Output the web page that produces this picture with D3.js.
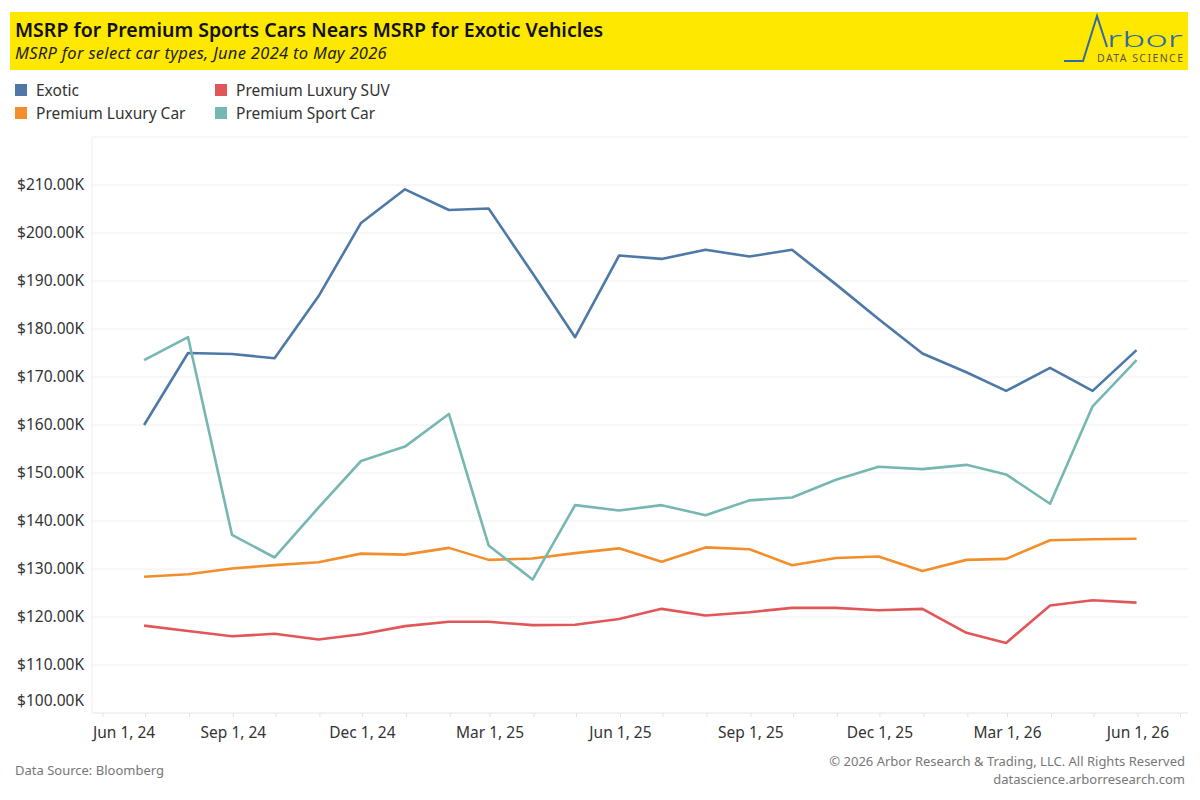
<!DOCTYPE html>
<html>
<head>
<meta charset="utf-8">
<script src="https://cdn.jsdelivr.net/npm/d3@7"></script>
<style>
  body { margin: 0; background: #fff; }
  svg { display: block; font-family: "Noto Sans", "Open Sans", sans-serif; }
</style>
</head>
<body>
<svg id="chart" width="1200" height="800"></svg>
<script>
// monthly observations (month end), June 2024 .. May 2026
var dates = [
    '2024-06-30', '2024-07-31', '2024-08-31', '2024-09-30', '2024-10-31', '2024-11-30',
    '2024-12-31', '2025-01-31', '2025-02-28', '2025-03-31', '2025-04-30', '2025-05-31',
    '2025-06-30', '2025-07-31', '2025-08-31', '2025-09-30', '2025-10-31', '2025-11-30',
    '2025-12-31', '2026-01-31', '2026-02-28', '2026-03-31', '2026-04-30', '2026-05-31'
];

// values in $K
var exotic = [
    160.0, 175.0, 174.8, 173.9, 186.8, 202.1, 209.1, 204.8, 205.1, 191.6, 178.3, 195.3,
    194.6, 196.5, 195.1, 196.5, 189.3, 182.1, 174.9, 171.0, 167.1, 171.9, 167.1, 175.6
];
var luxuryCar = [
    128.4, 128.9, 130.1, 130.8, 131.4, 133.2, 133.0, 134.4, 131.9, 132.2, 133.3, 134.3,
    131.5, 134.5, 134.1, 130.8, 132.3, 132.6, 129.6, 131.9, 132.1, 136.0, 136.2, 136.3
];
var luxurySuv = [
    118.2, 117.1, 116.0, 116.5, 115.3, 116.4, 118.1, 119.0, 119.0, 118.3, 118.4, 119.6,
    121.7, 120.3, 121.0, 121.9, 121.9, 121.4, 121.7, 116.7, 114.6, 122.4, 123.5, 123.0
];
var sportCar = [
    173.5, 178.3, 137.1, 132.4, 142.8, 152.5, 155.5, 162.3, 134.9, 127.8, 143.3, 142.2,
    143.3, 141.2, 144.3, 144.9, 148.6, 151.3, 150.8, 151.7, 149.7, 143.6, 163.9, 173.5
];

var seriesNames = ['Exotic', 'Premium Luxury Car', 'Premium Luxury SUV', 'Premium Sport Car'];
var seriesValues = [exotic, luxuryCar, luxurySuv, sportCar];
var seriesColors = ['#4e79a7', '#f28e2b', '#e15759', '#76b7b2'];

var xTickLabels = ['2024-06-01', '2024-09-01', '2024-12-01', '2025-03-01', '2025-06-01',
    '2025-09-01', '2025-12-01', '2026-03-01', '2026-06-01'];
var yTicks = [100, 110, 120, 130, 140, 150, 160, 170, 180, 190, 200, 210];

var title = 'MSRP for Premium Sports Cars Nears MSRP for Exotic Vehicles';
var subtitle = 'MSRP for select car types, June 2024 to May 2026';

var parse = d3.utcParse('%Y-%m-%d');
var svg = d3.select('#chart');

var plot = { left: 92, right: 1188, top: 137, bottom: 713 };

// header band
svg.append('rect')
    .attr('x', 10).attr('y', 12).attr('width', 1178).attr('height', 58)
    .attr('fill', '#ffe800');
svg.append('text')
    .attr('x', 15).attr('y', 37)
    .attr('font-size', 19.5).attr('font-weight', 600).attr('fill', '#111')
    .text(title);
svg.append('text')
    .attr('x', 15).attr('y', 59)
    .attr('font-size', 16.5).attr('font-style', 'italic').attr('fill', '#222')
    .attr('letter-spacing', 0.3)
    .text(subtitle);

// logo
var logo = svg.append('g');
logo.append('path')
    .attr('d', 'M1064,61H1083L1097,16L1107,47')
    .attr('fill', 'none').attr('stroke', '#2f6aa5').attr('stroke-width', 2);
logo.append('text')
    .attr('x', 1107).attr('y', 47)
    .attr('font-size', 21).attr('font-weight', 300).attr('fill', '#2f6aa5')
    .attr('textLength', 76).attr('lengthAdjust', 'spacingAndGlyphs')
    .text('rbor');
logo.append('text')
    .attr('x', 1097).attr('y', 62)
    .attr('font-size', 10.5).attr('fill', '#58554a')
    .attr('textLength', 86)
    .text('DATA SCIENCE');

// legend, two columns
var legend = svg.append('g').selectAll('g').data(seriesNames).enter()
    .append('g')
    .attr('transform', (d, i) => 'translate(' + (i < 2 ? 15 : 215) + ',' + (i % 2 === 0 ? 84 : 107) + ')');
legend.append('rect')
    .attr('width', 12).attr('height', 12)
    .attr('fill', (d, i) => seriesColors[i]);
legend.append('text')
    .attr('x', 21).attr('y', 11.5)
    .attr('font-size', 15.5).attr('fill', '#333')
    .text(d => d);

var x = d3.scaleUtc()
    .domain([Date.UTC(2024, 4, 24, 6), Date.UTC(2026, 6, 6, 7)])
    .range([plot.left, plot.right]);
var y = d3.scaleLinear()
    .domain([100, 220])
    .range([plot.bottom, plot.top]);

// gridlines
svg.append('g').selectAll('line').data(yTicks.concat([220])).enter()
    .append('line')
    .attr('x1', plot.left).attr('x2', plot.right)
    .attr('y1', d => y(d)).attr('y2', d => y(d))
    .attr('stroke', d => d === 100 ? '#e6e6e6' : '#efefef')
    .attr('stroke-width', 1);
svg.append('line')
    .attr('x1', plot.left).attr('x2', plot.left)
    .attr('y1', plot.top).attr('y2', plot.bottom)
    .attr('stroke', '#ececec');

// y axis labels (bottom one nudged up to stay inside the pane)
svg.append('g').selectAll('text').data(yTicks).enter()
    .append('text')
    .attr('x', 84)
    .attr('y', d => d === 100 ? y(d) - 12 : y(d))
    .attr('dy', '0.35em')
    .attr('text-anchor', 'end')
    .attr('font-size', 15.5).attr('fill', '#333')
    .text(d => '$' + d3.format('.2f')(d) + 'K');

// x axis: monthly small ticks, quarterly labels
var xAxisG = svg.append('g').attr('transform', 'translate(0,' + plot.bottom + ')');
var months = d3.utcMonth.range(x.domain()[0], x.domain()[1]);
xAxisG.selectAll('line').data(months).enter()
    .append('line')
    .attr('x1', d => x(d)).attr('x2', d => x(d))
    .attr('y1', 0).attr('y2', 4)
    .attr('stroke', '#e2e2e2');
var fmt = d3.utcFormat('%b %-d, %y');
xAxisG.selectAll('text').data(xTickLabels.map(parse)).enter()
    .append('text')
    .attr('x', (d, i) => i === 0 ? plot.left + 1 : x(d))
    .attr('y', 25)
    .attr('text-anchor', (d, i) => i === 0 ? 'start' : 'middle')
    .attr('font-size', 15.5).attr('fill', '#333')
    .text(fmt);

// lines
var line = d3.line()
    .x((d, i) => x(parse(dates[i])))
    .y(d => y(d));
svg.append('g').selectAll('path').data(seriesValues).enter()
    .append('path')
    .attr('d', d => line(d))
    .attr('fill', 'none')
    .attr('stroke', (d, i) => seriesColors[i])
    .attr('stroke-width', 2.6)
    .attr('stroke-linejoin', 'round');

// footer
svg.append('text')
    .attr('x', 15).attr('y', 775)
    .attr('font-size', 13).attr('fill', '#777')
    .text('Data Source: Bloomberg');
svg.append('text')
    .attr('x', 1185).attr('y', 766)
    .attr('text-anchor', 'end')
    .attr('font-size', 13).attr('fill', '#777')
    .text('© 2026 Arbor Research & Trading, LLC. All Rights Reserved');
svg.append('text')
    .attr('x', 1185).attr('y', 784)
    .attr('text-anchor', 'end')
    .attr('font-size', 13).attr('fill', '#777')
    .text('datascience.arborresearch.com');
</script>
</body>
</html>
